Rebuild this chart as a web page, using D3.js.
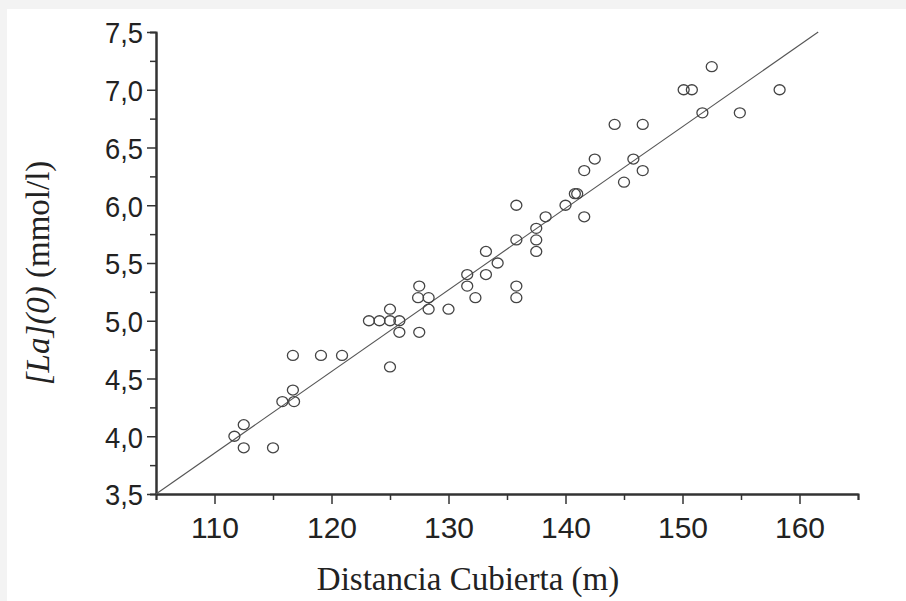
<!DOCTYPE html>
<html>
<head>
<meta charset="utf-8">
<script src="https://cdn.jsdelivr.net/npm/d3@7"></script>
<style>
  body { margin: 0; background: #f3f3f3; }
  svg { display: block; }
</style>
</head>
<body>
<div id="chart"></div>
<script>
// distancia cubierta (m) y lactato [La](0) (mmol/l)
let distancia = [111.7, 112.5, 112.5, 115.0, 115.8, 116.7, 116.8, 116.7, 119.1, 120.9,
    123.2, 124.1, 125.0, 125.0, 125.0, 125.8, 125.8, 127.5, 127.4, 127.5,
    128.3, 128.3, 130.0, 131.6, 131.6, 132.3, 133.2, 133.2, 134.2, 135.8,
    135.8, 135.8, 135.8, 137.5, 137.5, 137.5, 138.3, 140.0, 140.8, 141.0,
    141.6, 141.6, 142.5, 144.2, 145.0, 145.8, 146.6, 146.6, 150.1, 150.8,
    151.7, 152.5, 154.9, 158.3]
let lactato = [4.0, 4.1, 3.9, 3.9, 4.3, 4.4, 4.3, 4.7, 4.7, 4.7,
    5.0, 5.0, 5.0, 5.1, 4.6, 5.0, 4.9, 5.3, 5.2, 4.9,
    5.2, 5.1, 5.1, 5.4, 5.3, 5.2, 5.6, 5.4, 5.5, 6.0,
    5.7, 5.3, 5.2, 5.8, 5.7, 5.6, 5.9, 6.0, 6.1, 6.1,
    6.3, 5.9, 6.4, 6.7, 6.2, 6.4, 6.7, 6.3, 7.0, 7.0,
    6.8, 7.2, 6.8, 7.0]

// recta de regresion
let rectaX = [105, 161.6]
let rectaY = [3.5, 7.5]

let xTicks = [110, 120, 130, 140, 150, 160]
let xMinor = [105, 115, 125, 135, 145, 155, 165]
let yTicks = [3.5, 4.0, 4.5, 5.0, 5.5, 6.0, 6.5, 7.0, 7.5]
let yMinor = [3.75, 4.25, 4.75, 5.25, 5.75, 6.25, 6.75, 7.25]

var width = 906, height = 601

var svg = d3.select("#chart").append("svg")
    .attr("width", width)
    .attr("height", height)

svg.append("rect")
    .attr("x", 7).attr("y", 9)
    .attr("width", width - 7).attr("height", height - 9)
    .attr("fill", "#ffffff")

var x = d3.scaleLinear().domain([105, 165]).range([156, 858])
var y = d3.scaleLinear().domain([3.5, 7.5]).range([494, 32])

var coma = function (d) { return d3.format(".1f")(d).replace(".", ",") }

// eje x
let xMinorG = svg.append("g")
    .attr("transform", "translate(0,494)")
    .call(d3.axisBottom(x).tickValues(xMinor).tickSize(6).tickFormat(""))
let xAxisG = svg.append("g")
    .attr("transform", "translate(0,494)")
    .call(d3.axisBottom(x).tickValues(xTicks).tickSize(10).tickSizeOuter(0).tickFormat(d3.format("d")))

// eje y
let yMinorG = svg.append("g")
    .attr("transform", "translate(156,0)")
    .call(d3.axisLeft(y).tickValues(yMinor).tickSize(6).tickFormat(""))
let yAxisG = svg.append("g")
    .attr("transform", "translate(156,0)")
    .call(d3.axisLeft(y).tickValues(yTicks).tickSize(9).tickSizeOuter(0).tickPadding(4).tickFormat(coma))

svg.selectAll(".domain").attr("stroke", "#333").attr("stroke-width", 2)
svg.selectAll(".tick line").attr("stroke", "#333").attr("stroke-width", 1.5)
svg.selectAll(".tick text")
    .attr("fill", "#222")
    .style("font-family", "'Liberation Sans', Arial, sans-serif")
    .style("font-size", "30px")
xAxisG.selectAll(".tick text").attr("y", 44).attr("dy", 0)
yAxisG.selectAll(".tick text").attr("dy", "0.36em").attr("textLength", 38).attr("lengthAdjust", "spacingAndGlyphs")

// recta
var linea = d3.line()
    .x(function (d) { return x(d[0]) })
    .y(function (d) { return y(d[1]) })
svg.append("path")
    .datum(rectaX.map(function (d, i) { return [d, rectaY[i]] }))
    .attr("d", linea)
    .attr("fill", "none")
    .attr("stroke", "#555")
    .attr("stroke-width", 1.1)

// puntos
svg.selectAll("ellipse.punto")
    .data(distancia.map(function (d, i) { return { d: d, la: lactato[i] } }))
    .enter().append("ellipse")
    .attr("class", "punto")
    .attr("cx", function (d) { return x(d.d) })
    .attr("cy", function (d) { return y(d.la) })
    .attr("rx", 5.5)
    .attr("ry", 5)
    .attr("fill", "none")
    .attr("stroke", "#444")
    .attr("stroke-width", 1.3)

// titulos de ejes
svg.append("text")
    .attr("x", 468)
    .attr("y", 590)
    .attr("text-anchor", "middle")
    .style("font-family", "'Liberation Serif', 'Times New Roman', serif")
    .style("font-size", "33px")
    .attr("fill", "#222")
    .text("Distancia Cubierta (m)")

let yLab = svg.append("text")
    .attr("transform", "translate(49,273) rotate(-90)")
    .attr("text-anchor", "middle")
    .style("font-family", "'Liberation Serif', 'Times New Roman', serif")
    .style("font-size", "33px")
    .attr("fill", "#222")
yLab.append("tspan").style("font-style", "italic").text("[La](0)")
yLab.append("tspan").text(" (mmol/l)")
</script>
</body>
</html>
